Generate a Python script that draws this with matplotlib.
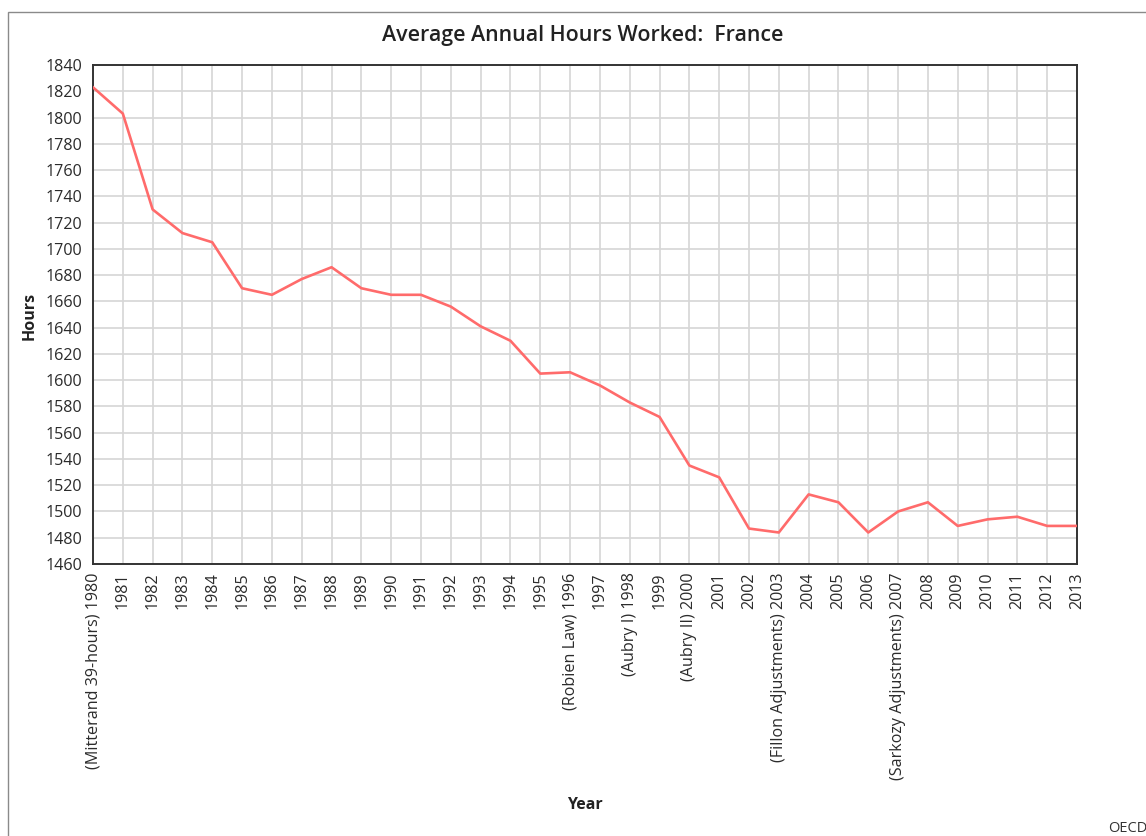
import matplotlib
matplotlib.use("Agg")
import matplotlib.pyplot as plt
from matplotlib.patches import Rectangle

plt.rcParams["font.family"] = ["Open Sans", "DejaVu Sans"]

years = list(range(1980, 2014))
hours = [1823, 1803, 1730, 1712, 1705, 1670, 1665, 1677, 1686, 1670,
         1665, 1665, 1656, 1641, 1630, 1605, 1606, 1596, 1583, 1572,
         1535, 1526, 1487, 1484, 1513, 1507, 1484, 1500, 1507, 1489,
         1494, 1496, 1489, 1489]
notes = {1980: "(Mitterand 39-hours)", 1996: "(Robien Law)", 1998: "(Aubry I)",
         2000: "(Aubry II)", 2003: "(Fillon Adjustments)",
         2007: "(Sarkozy Adjustments)"}
tick_labels = [f"{notes[y]} {y}" if y in notes else str(y) for y in years]
y_ticks = list(range(1460, 1841, 20))

W, H = 1146, 836
fig = plt.figure(figsize=(W / 100, H / 100), dpi=100)
ax = fig.add_axes([93 / W, 1 - 564 / H, (1077 - 93) / W, (564 - 65) / H])

# outer frame of the chart widget
fig.patches.append(Rectangle((8 / W, -0.1), 1.2, 1 - 12 / H + 0.1,
                             transform=fig.transFigure, fill=False,
                             edgecolor="#8a8a8a", linewidth=1))

ax.plot(years, hours, color="#ff6b6b", linewidth=1.9, zorder=3)
ax.set_xlim(1980, 2013)
ax.set_ylim(1460, 1840)
ax.set_xticks(years)
ax.set_xticklabels(tick_labels, rotation=90, va="top", ha="center")
ax.set_yticks(y_ticks)
ax.tick_params(axis="both", length=0, labelsize=11.6, labelcolor="#2b2b2b")
ax.tick_params(axis="x", pad=6)
ax.tick_params(axis="y", pad=8)
ax.grid(True, color="#d6d6d6", linewidth=1.2)
ax.set_axisbelow(True)
for s in ax.spines.values():
    s.set_color("#333333")
    s.set_linewidth(1.4)

fig.text(583 / W, 1 - 35 / H, "Average Annual Hours Worked:  France",
         ha="center", va="center", fontsize=15.4, fontweight="semibold", color="#222222")
fig.text(30 / W, 1 - 316 / H, "Hours", rotation=90, ha="center", va="center",
         fontsize=11.5, fontweight="bold", color="#222222")
fig.text(585 / W, 1 - 805 / H, "Year", ha="center", va="center",
         fontsize=11.5, fontweight="bold", color="#222222")
fig.text(1108 / W, 1 - 829 / H, "OECD", ha="left", va="center",
         fontsize=10.5, color="#333333")

fig.savefig("out.png", dpi=100)
